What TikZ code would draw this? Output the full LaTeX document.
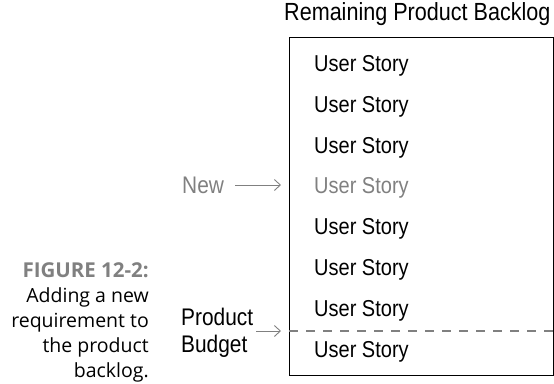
\documentclass[tikz,border=0pt]{standalone}
\usepackage{fontspec}
\setmainfont{Liberation Sans}[FakeStretch=0.87]
\newfontfamily\capfont{Open Sans}
\usetikzlibrary{arrows.meta}
\definecolor{midgray}{HTML}{808080}
\begin{document}
\begin{tikzpicture}[x=1pt,y=-1pt,line cap=butt,line join=miter,
 font=\fontsize{23}{27}\selectfont,
 story/.style={anchor=base west,inner sep=0pt},
 side/.style={anchor=base west,inner sep=0pt,font=\fontsize{24}{27}\selectfont},
 arr/.style={-{Straight Barb[length=6pt,width=11pt]},line width=.9pt,draw=midgray,
  shorten >=8pt}]
\useasboundingbox (0,0) rectangle (554,383);
% backlog box and its heading
\node[draw,line width=1.2pt,minimum width=264pt,minimum height=338pt,
 inner sep=0pt,anchor=north west] (backlog) at (289,37) {};
\node[anchor=base west,inner sep=0pt,font=\fontsize{24.8}{28}\selectfont]
 (head) at (284,20) {Remaining Product Backlog};
% stories, the fourth one is the new one
\foreach \i in {1,...,8}{
 \ifnum\i=4
  \node[story,text=midgray] (us\i) at (314,{71.5+(\i-1)*40.8}) {User Story};
 \else
  \node[story] (us\i) at (314,{71.5+(\i-1)*40.8}) {User Story};
 \fi
}
% budget cut
\coordinate (cutl) at (backlog.west |- 0,331);
\coordinate (cutr) at (backlog.east |- 0,331);
\draw[midgray,line width=2pt,dash pattern=on 9pt off 8pt] (cutl) -- (cutr);
\node[side,text=midgray] (new) at (182,193.5) {New};
\draw[arr] ([xshift=11pt]new.east |- 0,185) -- (backlog.west |- 0,185);
\node[side,align=left] (budget) at (181,352.5) {Product\\Budget};
\draw[arr] ([xshift=3pt]budget.east |- cutl) -- (cutl);
% figure caption
\node[anchor=north east,align=right,inner sep=0pt,
 font=\capfont\fontsize{19.5}{25}\selectfont] (cap) at (149,262.5)
 {\textcolor{midgray}{\fontsize{20.5}{25}\selectfont\bfseries FIGURE 12-2:}\\
  Adding a new\\requirement to\\the product\\backlog.};
\end{tikzpicture}
\end{document}
